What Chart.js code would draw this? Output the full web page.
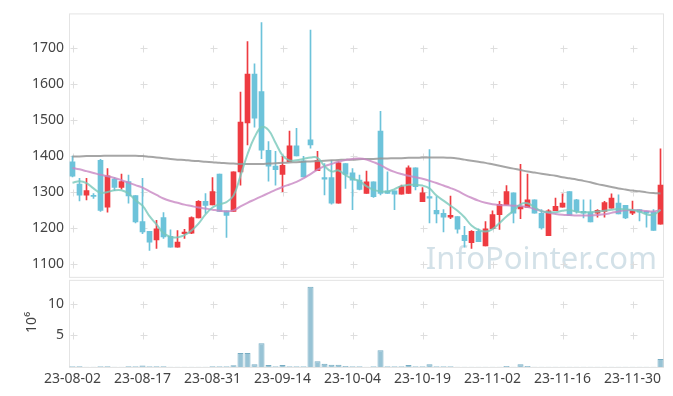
<!DOCTYPE html>
<html><head><meta charset="utf-8">
<script src="https://cdn.jsdelivr.net/npm/chart.js@4.4.0/dist/chart.umd.min.js"></script>
<style>html,body{margin:0;padding:0;background:#fff;}#wrap{width:673px;height:396px;position:relative;}</style>
</head><body><div id="wrap"><canvas id="c"></canvas></div>
<script>
const dates = [
'23-08-02','23-08-03','23-08-04','23-08-07','23-08-08','23-08-09','23-08-10','23-08-11','23-08-14','23-08-16',
'23-08-17','23-08-18','23-08-21','23-08-22','23-08-23','23-08-24','23-08-25','23-08-28','23-08-29','23-08-30',
'23-08-31','23-09-01','23-09-04','23-09-05','23-09-06','23-09-07','23-09-08','23-09-11','23-09-12','23-09-13',
'23-09-14','23-09-15','23-09-18','23-09-19','23-09-20','23-09-21','23-09-22','23-09-25','23-09-26','23-09-27',
'23-10-04','23-10-05','23-10-06','23-10-10','23-10-11','23-10-12','23-10-13','23-10-16','23-10-17','23-10-18',
'23-10-19','23-10-20','23-10-23','23-10-24','23-10-25','23-10-26','23-10-27','23-10-30','23-10-31','23-11-01',
'23-11-02','23-11-03','23-11-06','23-11-07','23-11-08','23-11-09','23-11-10','23-11-13','23-11-14','23-11-15',
'23-11-16','23-11-17','23-11-20','23-11-21','23-11-22','23-11-23','23-11-24','23-11-27','23-11-28','23-11-29',
'23-11-30','23-12-01','23-12-04','23-12-05','23-12-06'];

const openP = [1384,1322,1291,1290,1388,1258,1336,1313,1329,1290,
1218,1191,1167,1229,1177,1147,1184,1186,1228,1274,
1264,1350,1248,1246,1356,1492,1628,1579,1416,1372,
1349,1384,1428,1387,1445,1359,1340,1340,1269,1379,
1353,1333,1296,1328,1469,1303,1303,1294,1296,1367,
1273,1287,1249,1241,1230,1232,1180,1159,1191,1150,
1198,1237,1264,1298,1253,1257,1278,1241,1179,1248,
1258,1301,1278,1246,1244,1241,1246,1255,1269,1263,
1241,1251,1246,1244,1211];
const highP = [1400,1338,1338,1296,1391,1365,1340,1350,1347,1290,
1338,1191,1221,1243,1195,1193,1196,1231,1276,1296,
1340,1350,1248,1356,1578,1718,1656,1771,1440,1413,
1399,1469,1477,1399,1750,1413,1379,1388,1384,1379,
1365,1347,1358,1328,1524,1356,1303,1319,1373,1367,
1312,1418,1287,1251,1289,1232,1205,1193,1198,1218,
1248,1274,1318,1298,1377,1350,1278,1251,1251,1283,
1295,1301,1280,1278,1278,1251,1274,1295,1292,1263,
1275,1251,1246,1251,1420];
const lowP = [1342,1275,1278,1282,1246,1244,1304,1308,1269,1214,
1184,1138,1143,1171,1147,1147,1171,1184,1228,1241,
1264,1246,1174,1246,1319,1431,1480,1393,1330,1319,
1301,1384,1400,1342,1422,1359,1292,1266,1269,1310,
1251,1306,1296,1285,1292,1296,1251,1294,1296,1306,
1273,1214,1214,1189,1226,1186,1147,1143,1162,1150,
1198,1196,1264,1214,1226,1257,1241,1197,1179,1248,
1258,1235,1241,1228,1217,1230,1230,1255,1239,1226,
1237,1220,1202,1193,1211];
const closeP = [1344,1291,1304,1288,1249,1345,1313,1329,1289,1217,
1189,1161,1198,1175,1147,1161,1189,1229,1274,1263,
1301,1246,1235,1356,1494,1628,1505,1416,1372,1362,
1374,1428,1400,1342,1431,1388,1336,1269,1381,1349,
1333,1307,1328,1287,1296,1296,1294,1315,1367,1315,
1298,1283,1239,1230,1235,1197,1165,1191,1162,1198,
1237,1266,1301,1241,1260,1278,1241,1200,1248,1260,
1269,1235,1246,1241,1217,1249,1271,1283,1239,1228,
1249,1244,1241,1193,1319];

const ma5 = [1326,1330,1325,1310,1298,1300,1305,1305,1296,1277,
1262,1233,1210,1186,1175,1174,1180,1193,1212,1238,
1257,1266,1272,1290,1345,1405,1452,1480,1472,1437,
1402,1388,1388,1392,1396,1395,1372,1357,1360,1347,
1337,1330,1316,1306,1302,1301,1308,1317,1320,1320,
1318,1310,1290,1276,1262,1248,1230,1207,1195,1190,
1197,1214,1232,1248,1266,1269,1258,1247,1244,1244,
1248,1250,1245,1244,1244,1246,1248,1251,1253,1252,
1250,1246,1238,1237,1250];
const ma20 = [1367,1363,1358,1353,1348,1344,1339,1333,1326,1319,
1312,1302,1292,1282,1275,1270,1265,1261,1257,1254,
1251,1248,1246,1249,1260,1270,1279,1288,1297,1306,
1314,1321,1328,1338,1350,1362,1372,1378,1384,1389,
1392,1393,1390,1383,1375,1364,1356,1350,1345,1341,
1337,1331,1325,1318,1311,1303,1293,1284,1276,1270,
1266,1264,1263,1262,1261,1258,1253,1247,1242,1239,
1237,1236,1235,1235,1235,1236,1238,1242,1246,1249,
1250,1249,1247,1246,1250];
const ma60 = [1399,1399,1400,1400,1400,1401,1401,1401,1401,1401,
1400,1398,1396,1394,1392,1390,1389,1387,1386,1384,
1383,1381,1380,1379,1378,1378,1378,1378,1379,1380,
1381,1382,1383,1384,1385,1386,1387,1388,1389,1390,
1390,1391,1392,1392,1393,1393,1394,1394,1395,1395,
1396,1396,1396,1396,1395,1393,1390,1387,1384,1381,
1377,1373,1369,1365,1361,1357,1354,1351,1348,1345,
1341,1338,1335,1331,1327,1322,1318,1314,1310,1307,
1304,1302,1299,1297,1296];

const volume = [0.12,0.1,0.04,0.03,0.12,0.1,0.03,0.05,0.1,0.12,
0.25,0.12,0.1,0.1,0.02,0.02,0.02,0.02,0.02,0.02,
0.1,0.12,0.12,0.28,2.2,2.2,0.45,3.75,0.3,0.12,
0.3,0.12,0.12,0.12,12.7,0.9,0.5,0.35,0.35,0.15,
0.12,0.12,0.05,0.12,2.65,0.12,0.12,0.12,0.3,0.12,
0.12,0.45,0.12,0.12,0.12,0.02,0.02,0.02,0.02,0.02,
0.02,0.02,0.15,0.02,0.45,0.15,0.02,0.02,0.02,0.02,
0.02,0.02,0.02,0.02,0.02,0.02,0.02,0.02,0.02,0.02,
0.02,0.02,0.02,0.02,1.25];

const priceTicks = [1100,1200,1300,1400,1500,1600,1700];
const volTicks = [5,10];
const xTickEvery = 10;

const UP = '#ee3b41', DOWN = '#6dc3da';
const candleColors = closeP.map((c,i) => c >= openP[i] ? UP : DOWN);
const wickData = lowP.map((l,i) => [l, highP[i]]);
const bodyData = openP.map((o,i) => [o, closeP[i]]);

const FONT = '"Noto Sans", "DejaVu Sans", sans-serif';

const deco = {
  id: 'deco',
  beforeDatasetsDraw(chart) {
    const {ctx, chartArea: a, scales} = chart;
    const x = scales.x, y = scales.y, yv = scales.yv;
    ctx.save();
    ctx.font = '31px ' + FONT;
    ctx.fillStyle = 'rgba(168,196,210,0.5)';
    ctx.textAlign = 'right';
    ctx.textBaseline = 'alphabetic';
    ctx.fillText('InfoPointer.com', 657, 269);
    ctx.strokeStyle = '#dedede';
    ctx.lineWidth = 1;
    const xs = [];
    for (let i = 0; i < dates.length; i += xTickEvery) xs.push(Math.round(x.getPixelForValue(i)) + 0.5);
    const cross = (px, py) => {
      ctx.beginPath();
      ctx.moveTo(px - 3, py); ctx.lineTo(px + 4, py);
      ctx.moveTo(px, py - 3); ctx.lineTo(px, py + 4);
      ctx.stroke();
    };
    priceTicks.forEach(v => { const py = Math.round(y.getPixelForValue(v)) + 0.5; xs.forEach(px => cross(px, py)); });
    volTicks.forEach(v => { const py = Math.round(yv.getPixelForValue(v)) + 0.5; xs.forEach(px => cross(px, py)); });
    ctx.strokeStyle = '#e4e4e4';
    ctx.strokeRect(a.left + 0.5, y.top + 0.5, a.right - a.left - 1, y.bottom - y.top - 1);
    ctx.strokeRect(a.left + 0.5, yv.top + 2.5, a.right - a.left - 1, yv.bottom - yv.top - 2);
    ctx.restore();
  }
};

new Chart(document.getElementById('c'), {
  type: 'bar',
  data: {
    labels: dates,
    datasets: [
      {type:'line', label:'MA5', data: ma5, yAxisID:'y', borderColor:'rgba(120,200,186,0.8)', borderWidth:2, pointRadius:0, tension:0.4, order:0},
      {type:'line', label:'MA20', data: ma20, yAxisID:'y', borderColor:'rgba(200,135,195,0.8)', borderWidth:2, pointRadius:0, tension:0.4, order:0},
      {type:'line', label:'MA60', data: ma60, yAxisID:'y', borderColor:'rgba(150,150,150,0.85)', borderWidth:2, pointRadius:0, tension:0.4, order:0},
      {label:'body', data: bodyData, yAxisID:'y', backgroundColor: candleColors, barThickness:5, minBarLength:1, grouped:false, borderWidth:0, order:1},
      {label:'wick', data: wickData, yAxisID:'y', backgroundColor: candleColors, barThickness:1, grouped:false, borderWidth:0, order:2},
      {label:'volume', data: volume, yAxisID:'yv', backgroundColor:'rgba(146,192,211,0.95)', borderColor:'#78adc3', borderWidth:1, barPercentage:0.86, categoryPercentage:1, grouped:false, order:3}
    ]
  },
  options: {
    responsive: true,
    maintainAspectRatio: false,
    devicePixelRatio: 1,
    animation: false,
    layout: {padding: {top: 10, right: 9, left: 0, bottom: 0}},
    plugins: {legend: {display:false}, tooltip: {enabled:false}},
    scales: {
      x: {
        type: 'category',
        offset: true,
        grid: {display:false, drawTicks:false},
        border: {display:false},
        ticks: {
          autoSkip:false, maxRotation:0, minRotation:0, padding:4,
          color:'#444', font:{family:FONT, size:14},
          callback: (v, i) => (i % xTickEvery === 0 ? dates[i] : null)
        },
        afterFit: s => { s.height = 29; }
      },
      yv: {
        position:'left', stack:'main', stackWeight: 90,
        min: 0, max: 14.1,
        grid: {display:false, drawTicks:false},
        border: {display:false},
        afterBuildTicks: s => { s.ticks = volTicks.map(v => ({value:v})); },
        ticks: {padding:5, color:'#444', font:{family:FONT, size:14}, callback: v => String(v)},
        title: {display:true, text:'10⁶', color:'#444', font:{family:FONT, size:14}, padding:{top:24, bottom:0}},
        afterFit: s => { s.width = 69; }
      },
      y: {
        position:'left', stack:'main', stackWeight: 267,
        min: 1061.5, max: 1796.3,
        grid: {display:false, drawTicks:false},
        border: {display:false},
        afterBuildTicks: s => { s.ticks = priceTicks.map(v => ({value:v})); },
        ticks: {padding:5, color:'#444', font:{family:FONT, size:14}, callback: v => String(v)},
        afterFit: s => { s.width = 69; }
      }
    }
  },
  plugins: [deco]
});
</script>
</body></html>
